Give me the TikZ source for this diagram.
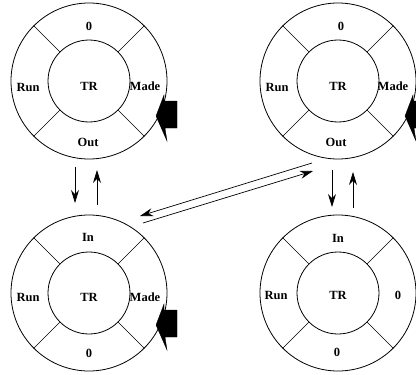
\documentclass[tikz,border=0pt]{standalone}
\usepackage{fontspec}
\setmainfont{Liberation Serif}
\usetikzlibrary{arrows.meta}
\tikzset{
  outer/.style={circle,draw,line width=0.8pt,minimum size=156pt,inner sep=0pt},
  innerc/.style={circle,draw,line width=0.8pt,minimum size=82pt,inner sep=0pt},
  lab/.style={font=\fontsize{12.5}{14}\selectfont\bfseries,inner sep=0pt},
  spoke/.style={line width=0.7pt},
  arr/.style={-{Stealth[length=13pt,width=8pt]},line width=0.7pt},
  bigarrow/.style={fill=black,draw=black,line width=0.3pt}
}
\begin{document}
\begin{tikzpicture}[x=1pt,y=-1pt]
\useasboundingbox (0,0) rectangle (416,375);
\begin{scope}
\clip (0,0) rectangle (416,375);
% circles
\foreach \n/\cx/\cy in {1/89/81, 2/338/81, 3/89/293, 4/338/293}{
  \node[outer] (o\n) at (\cx,\cy) {};
  \node[innerc] (i\n) at (\cx,\cy) {};
  \foreach \a in {45,135,225,315}{
    \draw[spoke] (o\n.\a) -- (i\n.\a);
  }
}
% big filled arrows
\foreach \cx/\cy in {89/81, 338/81, 89/290}{
  \fill[bigarrow] (\cx+67,\cy+35) -- (\cx+75,\cy+14) -- (\cx+75,\cy+20) -- (\cx+88,\cy+20)
    -- (\cx+88,\cy+47) -- (\cx+76,\cy+47) -- (\cx+78,\cy+60) -- cycle;
}
\end{scope}
% labels top-left
\node[lab] (l1a) at (89,26) {0};
\node[lab] (l1b) at (28,87) {Run};
\node[lab] (l1c) at (89,86) {TR};
\node[lab] (l1d) at (145,86) {Made};
\node[lab] (l1e) at (88,142) {Out};
% labels top-right
\node[lab] (l2a) at (341,26) {0};
\node[lab] (l2b) at (277,87) {Run};
\node[lab] (l2c) at (338,86) {TR};
\node[lab] (l2d) at (393,86) {Made};
\node[lab] (l2e) at (336,142) {Out};
% labels bottom-left
\node[lab] (l3a) at (88,237) {In};
\node[lab] (l3b) at (28,297) {Run};
\node[lab] (l3c) at (89,297) {TR};
\node[lab] (l3d) at (145,297) {Made};
\node[lab] (l3e) at (89,353) {0};
% labels bottom-right
\node[lab] (l4a) at (338,238) {In};
\node[lab] (l4b) at (276,295) {Run};
\node[lab] (l4c) at (338,295) {TR};
\node[lab] (l4d) at (398,295) {0};
\node[lab] (l4e) at (337,352) {0};
% arrow end points
\coordinate (a1s) at (75,167);  \coordinate (a1e) at (75,203);
\coordinate (a2s) at (97,205);  \coordinate (a2e) at (97,170);
\coordinate (a3s) at (332,170); \coordinate (a3e) at (332,207);
\coordinate (a4s) at (353,208); \coordinate (a4e) at (353,172);
\coordinate (d1s) at (312,163); \coordinate (d1e) at (140,216);
\coordinate (d2s) at (143,223); \coordinate (d2e) at (313,171);
\draw[arr] (a1s) -- (a1e);
\draw[arr] (a2s) -- (a2e);
\draw[arr] (a3s) -- (a3e);
\draw[arr] (a4s) -- (a4e);
\draw[arr] (d1s) -- (d1e);
\draw[arr] (d2s) -- (d2e);
\end{tikzpicture}
\end{document}
